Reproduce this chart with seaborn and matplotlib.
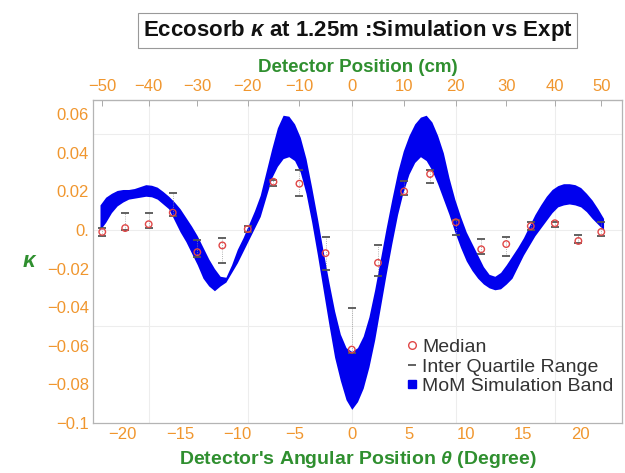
import numpy as np
import matplotlib
matplotlib.use("Agg")
import matplotlib.pyplot as plt
from matplotlib.lines import Line2D
import seaborn as sns

# measured kappa at each detector position (cm), detector 1.25 m away
det_cm = [-50, -45, -40, -35, -30, -25, -20, -15, -10, -5, 0,
          5, 10, 15, 20, 25, 30, 35, 40, 45, 50]
median = [-0.001, 0.001, 0.003, 0.009, -0.0115, -0.008, 0.0005, 0.025, 0.024, -0.012, -0.062,
          -0.017, 0.020, 0.029, 0.004, -0.010, -0.0073, 0.002, 0.0035, -0.0057, -0.001]
q_hi = [0.001, 0.009, 0.009, 0.019, -0.005, -0.004, 0.002, 0.026, 0.031, -0.0035, -0.0405,
        -0.008, 0.0255, 0.031, 0.005, -0.0047, -0.0035, 0.004, 0.004, -0.0025, 0.004]
q_lo = [-0.003, 0.0, 0.001, 0.007, -0.014, -0.017, -0.001, 0.023, 0.0177, -0.021, -0.064,
        -0.024, 0.018, 0.0245, -0.0027, -0.0125, -0.0135, 0.0, 0.0015, -0.007, -0.003]

# MoM simulation band, upper / lower edge
sim_theta = [-22.0, -21.5, -21.0, -20.5, -20.0, -19.5, -19.0, -18.5, -18.0, -17.5,
             -17.0, -16.5, -16.0, -15.5, -15.0, -14.5, -14.0, -13.5, -13.0, -12.5,
             -12.0, -11.5, -11.0, -10.5, -10.0, -9.5, -9.0, -8.5, -8.0, -7.5,
             -7.0, -6.5, -6.0, -5.5, -5.0, -4.5, -4.0, -3.5, -3.0, -2.5,
             -2.0, -1.5, -1.0, -0.5, 0.0, 0.5, 1.0, 1.5, 2.0, 2.5,
             3.0, 3.5, 4.0, 4.5, 5.0, 5.5, 6.0, 6.5, 7.0, 7.5,
             8.0, 8.5, 9.0, 9.5, 10.0, 10.5, 11.0, 11.5, 12.0, 12.5,
             13.0, 13.5, 14.0, 14.5, 15.0, 15.5, 16.0, 16.5, 17.0, 17.5,
             18.0, 18.5, 19.0, 19.5, 20.0, 20.5, 21.0, 21.5, 22.0]
sim_upper = [0.013, 0.017, 0.019, 0.0205, 0.021, 0.021, 0.0215, 0.0225, 0.0235, 0.0232,
             0.0222, 0.020, 0.0175, 0.0145, 0.011, 0.0065, 0.002, -0.003, -0.009, -0.015,
             -0.020, -0.024, -0.0245, -0.018, -0.010, -0.004, 0.003, 0.010, 0.018, 0.030,
             0.042, 0.053, 0.0595, 0.059, 0.055, 0.048, 0.037, 0.022, 0.006, -0.011,
             -0.027, -0.042, -0.054, -0.061, -0.063, -0.061, -0.055, -0.045, -0.031, -0.015,
             0.001, 0.016, 0.030, 0.041, 0.049, 0.055, 0.0585, 0.0595, 0.056, 0.049,
             0.040, 0.027, 0.016, 0.007, -0.001, -0.007, -0.013, -0.019, -0.023, -0.024,
             -0.022, -0.018, -0.0135, -0.009, -0.004, 0.002, 0.008, 0.013, 0.0175, 0.021,
             0.023, 0.024, 0.024, 0.0235, 0.022, 0.019, 0.0155, 0.011, 0.006]
sim_lower = [0.000, 0.004, 0.009, 0.0125, 0.0145, 0.016, 0.0165, 0.017, 0.0175, 0.0172,
             0.016, 0.0135, 0.011, 0.005, -0.001, -0.006, -0.012, -0.018, -0.025, -0.029,
             -0.0315, -0.029, -0.027, -0.022, -0.017, -0.011, -0.005, 0.001, 0.007, 0.017,
             0.027, 0.033, 0.037, 0.038, 0.036, 0.030, 0.019, 0.004, -0.013, -0.031,
             -0.049, -0.066, -0.078, -0.088, -0.093, -0.089, -0.082, -0.071, -0.057, -0.040,
             -0.023, -0.007, 0.008, 0.020, 0.029, 0.035, 0.038, 0.036, 0.031, 0.024,
             0.016, 0.008, -0.001, -0.009, -0.016, -0.021, -0.025, -0.028, -0.030, -0.031,
             -0.0305, -0.028, -0.025, -0.019, -0.013, -0.008, -0.003, 0.001, 0.005, 0.009,
             0.012, 0.013, 0.0135, 0.013, 0.012, 0.0095, 0.006, 0.003, 0.000]

dist_cm = 125.0
orange = '#f0962e'
green = '#2f8f2f'

def deg_to_cm(d):
    return dist_cm * np.tan(np.radians(d))

def cm_to_deg(c):
    return np.degrees(np.arctan(np.asarray(c) / dist_cm))

theta = cm_to_deg(det_cm)

sns.set_style("white")
plt.rcParams['font.family'] = ['Liberation Sans', 'DejaVu Sans']
plt.rcParams['mathtext.fontset'] = 'custom'
plt.rcParams['mathtext.it'] = 'Liberation Sans:italic:bold'
plt.rcParams['mathtext.rm'] = 'Liberation Sans'

fig = plt.figure(figsize=(6.25, 4.73), dpi=100)
ax = fig.add_axes([0.149, 0.106, 0.846, 0.683])

# faint grid
for c in [-40, -20, 0, 20, 40]:
    ax.axvline(cm_to_deg(c), color='#ededed', lw=0.8, zorder=0)
for v in [-0.05, 0.0, 0.05]:
    ax.axhline(v, color='#ededed', lw=0.8, zorder=0)

ax.fill_between(sim_theta, sim_lower, sim_upper, color='#0000ee', lw=0, zorder=1)

ax.vlines(theta, q_lo, q_hi, color='#999999', lw=0.6, linestyles=':', zorder=2)
sns.scatterplot(x=theta, y=q_hi, marker='_', color='#555555', s=40, linewidth=1.3, ax=ax, zorder=3)
sns.scatterplot(x=theta, y=q_lo, marker='_', color='#555555', s=40, linewidth=1.3, ax=ax, zorder=3)
sns.scatterplot(x=theta, y=median, marker='o', s=22, facecolor='none',
                edgecolor='#e04848', linewidth=1.0, ax=ax, zorder=4)

ax.set_xlim(-22.6, 23.6)
ax.set_ylim(-0.1, 0.0675)

ax.set_xticks([-20, -15, -10, -5, 0, 5, 10, 15, 20])
ax.set_xticklabels(['\u221220', '\u221215', '\u221210', '\u22125', '0', '5', '10', '15', '20'])
yt = [-0.1, -0.08, -0.06, -0.04, -0.02, 0, 0.02, 0.04, 0.06]
ax.set_yticks(yt)
ax.set_yticklabels(['\u22120.1', '\u22120.08', '\u22120.06', '\u22120.04', '\u22120.02',
                    '0.', '0.02', '0.04', '0.06'])
ax.tick_params(axis='both', colors='#aaaaaa', labelcolor=orange, labelsize=12,
               direction='in', length=4, width=0.7, pad=3)

for s in ax.spines.values():
    s.set_color('#b4b4b4')
    s.set_linewidth(0.9)

ax.set_xlabel("Detector's Angular Position $\\it{\\theta}$ (Degree)", color=green,
              fontsize=14, fontweight='bold', labelpad=5)
ax.set_ylabel('$\\it{\\kappa}$', color=green, fontsize=16, rotation=0, labelpad=12, va='center')

top = ax.secondary_xaxis('top', functions=(deg_to_cm, cm_to_deg))
top.set_xticks([-50, -40, -30, -20, -10, 0, 10, 20, 30, 40, 50])
top.set_xticklabels(['\u221250', '\u221240', '\u221230', '\u221220', '\u221210',
                     '0', '10', '20', '30', '40', '50'])
top.tick_params(colors='#aaaaaa', labelcolor=orange, labelsize=12, direction='in',
                length=4, width=0.7, pad=4)
top.spines['top'].set_color('#b4b4b4')
top.set_xlabel('Detector Position (cm)', color=green, fontsize=13.5, fontweight='bold', labelpad=5)

fig.text(0.572, 0.935, 'Eccosorb $\\it{\\kappa}$ at 1.25m :Simulation vs Expt',
         ha='center', va='center', fontsize=16, fontweight='bold', color='#111111',
         bbox=dict(boxstyle='square,pad=0.22', facecolor='white', edgecolor='#999999', lw=0.8))

handles = [
    Line2D([], [], marker='o', ls='none', markerfacecolor='none', markeredgecolor='#e04848',
           markersize=5.5, markeredgewidth=1.0),
    Line2D([], [], marker='_', ls='none', color='#555555', markersize=6, markeredgewidth=1.3),
    Line2D([], [], marker='s', ls='none', color='#0000ee', markersize=6),
]
ax.legend(handles, ['Median', 'Inter Quartile Range', 'MoM Simulation Band'],
          loc='upper left', bbox_to_anchor=(0.58, 0.285), frameon=False, fontsize=14,
          handlelength=0.5, handletextpad=0.25, labelspacing=0.1, borderaxespad=0,
          labelcolor='#333333')

fig.savefig('out.png', dpi=100)
